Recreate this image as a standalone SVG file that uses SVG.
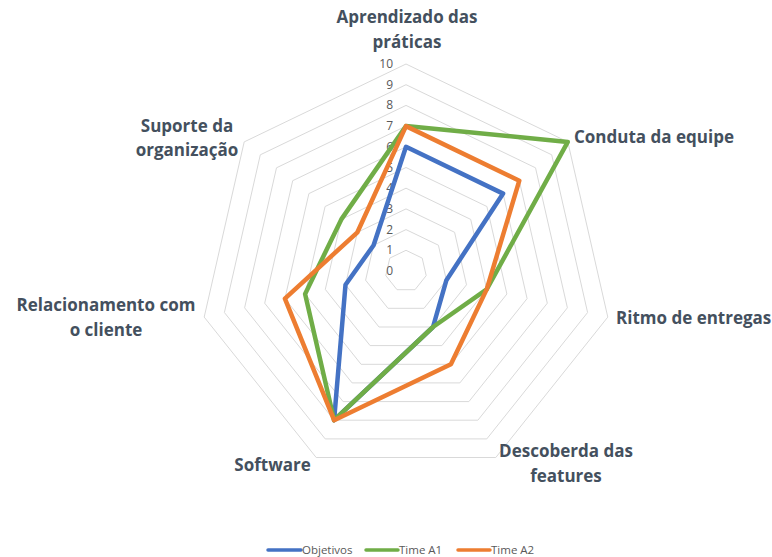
<svg xmlns="http://www.w3.org/2000/svg" width="772" height="557" viewBox="0 0 772 557">
<style>
.grid{fill:none;stroke:#D9D9D9;stroke-width:1}
.tick{font-family:"Open Sans","Liberation Sans",sans-serif;font-size:12px;fill:#595959;text-anchor:end}
.cat{font-family:"Open Sans","Liberation Sans",sans-serif;font-size:17px;font-weight:700;fill:#44505E;text-anchor:middle}
.ser{fill:none;stroke-width:4.5;stroke-linejoin:round}
.leg{font-family:"Open Sans","Liberation Sans",sans-serif;font-size:11.5px;fill:#595959}
</style>
<rect width="772" height="557" fill="#FFFFFF"/>
<g id="grid">
<polygon class="grid" points="406,250.3 422.2,258.1 426.2,275.6 415,289.7 397,289.7 385.8,275.6 389.8,258.1"/>
<polygon class="grid" points="406,229.6 438.4,245.2 446.4,280.2 424,308.3 388,308.3 365.6,280.2 373.6,245.2"/>
<polygon class="grid" points="406,208.9 454.6,232.3 466.5,284.8 433,327 379,327 345.5,284.8 357.4,232.3"/>
<polygon class="grid" points="406,188.2 470.7,219.4 486.7,289.4 441.9,345.6 370.1,345.6 325.3,289.4 341.3,219.4"/>
<polygon class="grid" points="406,167.5 486.9,206.5 506.9,294 450.9,364.3 361.1,364.3 305.1,294 325.1,206.5"/>
<polygon class="grid" points="406,146.8 503.1,193.6 527.1,298.6 459.9,382.9 352.1,382.9 284.9,298.6 308.9,193.6"/>
<polygon class="grid" points="406,126.1 519.3,180.7 547.3,303.2 468.9,401.6 343.1,401.6 264.7,303.2 292.7,180.7"/>
<polygon class="grid" points="406,105.4 535.5,167.8 567.4,307.8 477.9,420.2 334.1,420.2 244.6,307.8 276.5,167.8"/>
<polygon class="grid" points="406,84.7 551.7,154.8 587.6,312.5 486.8,438.9 325.2,438.9 224.4,312.5 260.3,154.8"/>
<polygon class="grid" points="406,64 567.8,141.9 607.8,317.1 495.8,457.5 316.2,457.5 204.2,317.1 244.2,141.9"/>
</g>
<g id="ticks">
<text class="tick" x="393" y="275">0</text>
<text class="tick" x="393" y="254.3">1</text>
<text class="tick" x="393" y="233.6">2</text>
<text class="tick" x="393" y="212.9">3</text>
<text class="tick" x="393" y="192.2">4</text>
<text class="tick" x="393" y="171.5">5</text>
<text class="tick" x="393" y="150.8">6</text>
<text class="tick" x="393" y="130.1">7</text>
<text class="tick" x="393" y="109.4">8</text>
<text class="tick" x="393" y="88.7">9</text>
<text class="tick" x="393" y="68">10</text>
</g>
<g id="labels">
<g id="cat-aprendizado"><text class="cat" x="407" y="23">Aprendizado das</text><text class="cat" x="407" y="48">práticas</text></g>
<g id="cat-conduta"><text class="cat" x="574" y="143" style="text-anchor:start">Conduta da equipe</text></g>
<g id="cat-ritmo"><text class="cat" x="616" y="324" style="text-anchor:start">Ritmo de entregas</text></g>
<g id="cat-descoberda"><text class="cat" x="566" y="457">Descoberda das</text><text class="cat" x="566" y="482">features</text></g>
<g id="cat-software"><text class="cat" x="272.5" y="471">Software</text></g>
<g id="cat-relacionamento"><text class="cat" x="106" y="311">Relacionamento com</text><text class="cat" x="106" y="336">o cliente</text></g>
<g id="cat-suporte"><text class="cat" x="187" y="132">Suporte da</text><text class="cat" x="187" y="156">organização</text></g>
</g>
<g id="series">
<polygon id="objetivos" class="ser" stroke="#4472C4" points="406,146.8 503.1,193.6 446.4,280.2 433,327 334.1,420.2 345.5,284.8 373.6,245.2"/>
<polygon id="time-a1" class="ser" stroke="#70AD47" points="406,126.1 567.8,141.9 486.7,289.4 433,327 334.1,420.2 305.1,294 341.3,219.4"/>
<polygon id="time-a2" class="ser" stroke="#ED7D31" points="406,126.1 519.3,180.7 486.7,289.4 450.9,364.3 334.1,420.2 284.9,298.6 357.4,232.3"/>
</g>
<g id="legend">
<line x1="268" y1="550" x2="301" y2="550" stroke="#4472C4" stroke-width="3.5" stroke-linecap="round"/>
<text class="leg" x="302" y="554">Objetivos</text>
<line x1="366" y1="550" x2="398" y2="550" stroke="#70AD47" stroke-width="3.5" stroke-linecap="round"/>
<text class="leg" x="399" y="554">Time A1</text>
<line x1="458" y1="550" x2="490" y2="550" stroke="#ED7D31" stroke-width="3.5" stroke-linecap="round"/>
<text class="leg" x="491" y="554">Time A2</text>
</g>
</svg>
